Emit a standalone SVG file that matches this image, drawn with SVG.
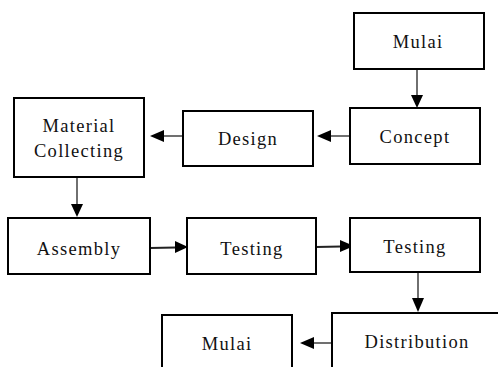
<svg xmlns="http://www.w3.org/2000/svg" width="498" height="367" viewBox="0 0 498 367">
<style>
.box{fill:#fff;stroke:#000;stroke-width:2}
.t{font-family:'Liberation Serif',serif;font-size:18.5px;letter-spacing:1.3px;fill:#111;text-anchor:middle}
.c{stroke:#222;stroke-width:1.3;fill:none}
.h{fill:#000}
</style>
<rect width="498" height="367" fill="#fff"/>
<g id="connectors">
<line class="c" x1="417" y1="69" x2="417" y2="96"/><polygon class="h" points="411,95 423,95 417,108"/>
<line class="c" x1="350" y1="136" x2="330" y2="136"/><polygon class="h" points="331,130 331,142 317,136"/>
<line class="c" x1="183" y1="136" x2="162" y2="136"/><polygon class="h" points="164,130 164,142 150,136"/>
<line class="c" x1="77" y1="177" x2="77" y2="206"/><polygon class="h" points="71,204 83,204 77,217"/>
<line class="c" x1="150" y1="248" x2="176" y2="247.5" style="stroke-width:2"/><polygon class="h" points="175,241 175,253 188,247"/>
<line class="c" x1="316" y1="247" x2="341" y2="246.5" style="stroke-width:2"/><polygon class="h" points="340,240 340,252 354,246"/>
<line class="c" x1="418" y1="272" x2="418" y2="300"/><polygon class="h" points="412,298 424,298 418,312"/>
<line class="c" x1="332" y1="343" x2="313" y2="343"/><polygon class="h" points="314,337 314,349 300,343"/>
</g>
<g id="mulai-start"><rect class="box" x="354" y="13" width="130" height="56"/><text class="t" x="418" y="48">Mulai</text></g>
<g id="concept"><rect class="box" x="350" y="108" width="130" height="56"/><text class="t" x="415" y="143">Concept</text></g>
<g id="design"><rect class="box" x="183" y="111" width="130" height="55"/><text class="t" x="248" y="145">Design</text></g>
<g id="material"><rect class="box" x="14" y="98" width="130" height="79"/><text class="t" x="79" y="132">Material</text><text class="t" x="79" y="157">Collecting</text></g>
<g id="assembly"><rect class="box" x="8" y="218" width="142" height="56"/><text class="t" x="79" y="255">Assembly</text></g>
<g id="testing1"><rect class="box" x="187" y="218" width="129" height="56"/><text class="t" x="252" y="255">Testing</text></g>
<g id="testing2"><rect class="box" x="350" y="218" width="130" height="54"/><text class="t" x="415" y="253">Testing</text></g>
<g id="distribution"><rect class="box" x="332" y="313" width="172" height="60"/><text class="t" x="417" y="348">Distribution</text></g>
<g id="mulai-end"><rect class="box" x="162" y="315" width="130" height="58"/><text class="t" x="227" y="350">Mulai</text></g>
</svg>
